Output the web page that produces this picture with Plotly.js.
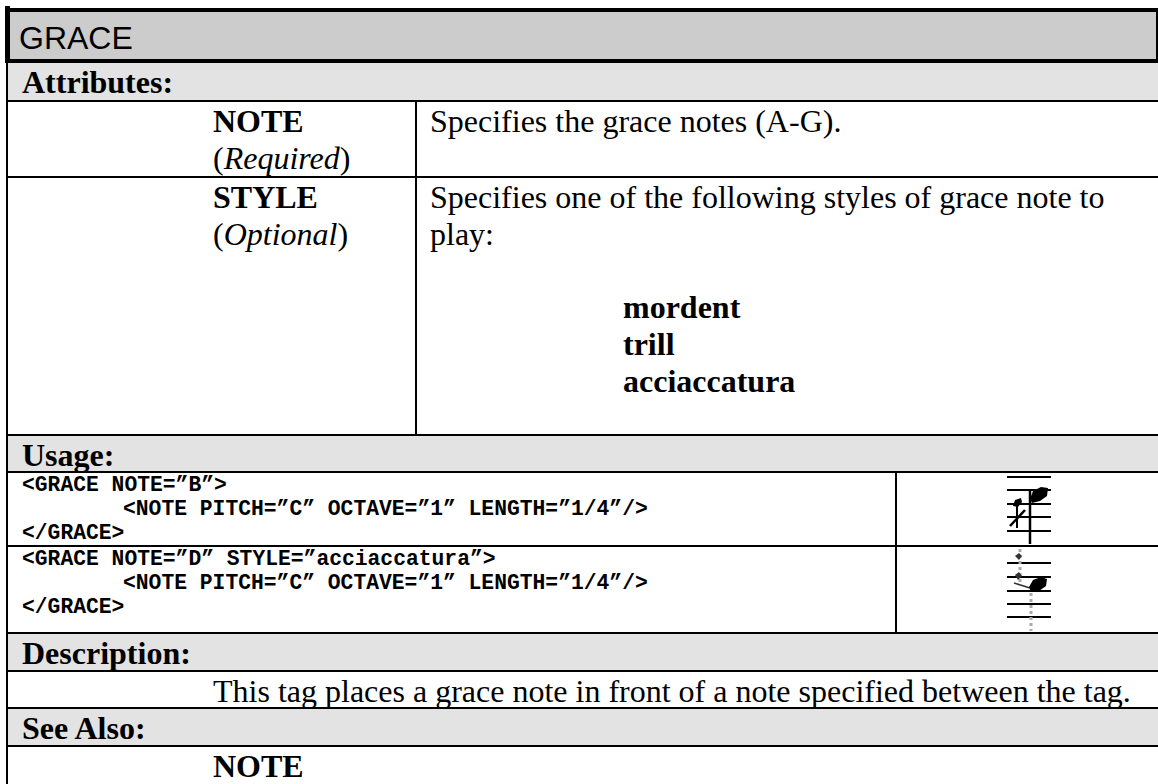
<!DOCTYPE html>
<html>
<head>
<meta charset="utf-8">
<script src="https://cdn.plot.ly/plotly-3.0.1.min.js"></script>
<style>
  html, body { margin: 0; padding: 0; background: #ffffff; }
  #chart { width: 1158px; height: 784px; }
</style>
</head>
<body>
<div id="chart"></div>
<script>
// ---------- content (data) ----------
const docTitle = 'GRACE';
const sectionHeaders = ['Attributes:', 'Usage:', 'Description:', 'See Also:'];
const attrNames = ['NOTE', 'STYLE'];
const attrStatus = ['Required', 'Optional'];
const attrDescNote = ['Specifies the grace notes (A-G).'];
const attrDescStyle = ['Specifies one of the following styles of grace note to', 'play:'];
const styleOptions = ['mordent', 'trill', 'acciaccatura'];
const usageExample1 = ['<GRACE NOTE=\u201dB\u201d>', '\t<NOTE PITCH=\u201dC\u201d OCTAVE=\u201d1\u201d LENGTH=\u201d1/4\u201d/>', '</GRACE>'];
const usageExample2 = ['<GRACE NOTE=\u201dD\u201d STYLE=\u201dacciaccatura\u201d>', '\t<NOTE PITCH=\u201dC\u201d OCTAVE=\u201d1\u201d LENGTH=\u201d1/4\u201d/>', '</GRACE>'];
const descriptionText = ['This tag places a grace note in front of a note specified between the tag.'];
const seeAlsoItems = ['NOTE'];

// ---------- page geometry (layout only) ----------
const W = 1158, H = 784;
const GEO = {
  titleTop: 12, titleBot: 59,
  attrHdrTop: 63, attrHdrBot: 100,
  noteRowTop: 102, styleRowTop: 178,
  usageTop: 436, usageBot: 471,
  code1Top: 473, code2Top: 547, codeBot: 632,
  descHdrTop: 634, descHdrBot: 670,
  descTop: 672, seeHdrTop: 709, seeHdrBot: 745, seeTop: 747,
  colLabel: 22, colAttr: 213, colDesc: 430, colOpt: 623, colDiv: 415, codeDiv: 895,
  codeIndent: 101
};
const SERIF = 'Liberation Serif, Times New Roman, serif';
const SANS = 'Liberation Sans, Arial, sans-serif';
const MONO = 'Liberation Mono, Courier New, monospace';
const LH = 36.8;        // single line height, 24pt serif
const CAP = 19;         // row top -> cap center of first line
const CLH = 24.2;       // code line height
const CCAP = 11.7;      // code row top -> first cap center
const HDR_GRAY = '#e3e3e3', TITLE_GRAY = '#cccccc';

function esc(s) { return s.replace(/&/g, '&amp;').replace(/</g, '&lt;').replace(/>/g, '&gt;'); }

const shapes = [];
function box(x0, x1, y0, y1, color) {
  shapes.push({type: 'rect', xref: 'x', yref: 'y', x0: x0, x1: x1, y0: y0, y1: y1,
    fillcolor: color, line: {width: 0}, layer: 'below'});
}
function seg(x0, y0, x1, y1, w, color, dash) {
  shapes.push({type: 'line', xref: 'x', yref: 'y', x0: x0, y0: y0, x1: x1, y1: y1,
    line: {width: w, color: color || '#000', dash: dash || 'solid'}});
}
function blob(path, color) {
  shapes.push({type: 'path', xref: 'x', yref: 'y', path: path, fillcolor: color || '#000', line: {width: 0}});
}

// fills
box(10, 1156, GEO.titleTop, GEO.titleBot, TITLE_GRAY);
box(8, W, GEO.attrHdrTop, GEO.attrHdrBot, HDR_GRAY);
box(8, W, GEO.usageTop, GEO.usageBot, HDR_GRAY);
box(8, W, GEO.descHdrTop, GEO.descHdrBot, HDR_GRAY);
box(8, W, GEO.seeHdrTop, GEO.seeHdrBot, HDR_GRAY);

// heavy title frame
box(5, W, 8, 12, '#000');
box(5, W, 59, 63, '#000');
box(5, 10, 6, 63, '#000');
box(1156, W, 8, 63, '#000');
// thin left border
box(6, 8, 63, H, '#000');
// horizontal rules
[100, 176, 434, 471, 545, 632, 670, 707, 745].forEach(function (y) { box(6, W, y, y + 2, '#000'); });
// vertical rules
box(GEO.colDiv, GEO.colDiv + 2, 102, 434, '#000');
box(GEO.codeDiv, GEO.codeDiv + 2, 473, 632, '#000');

// ---------- music icons ----------
// icon 1 : grace note with slash before a quarter note
[477, 490, 504, 517, 531].forEach(function (y) { seg(1007, y, 1051, y, 2); });
seg(1030, 490, 1030, 544, 2.5);
blob('M1030,499 L1033,491 L1041,487 L1048,488 L1047,496 L1040,501 L1032,503 Z');
seg(1017, 502, 1017, 528, 2);
blob('M1013,506 L1015,500 L1021,498 L1022,502 L1018,507 Z');
seg(1010, 526, 1025, 510, 2.5);
// icon 2 : acciaccatura (grey, scanned look)
[563, 577, 591, 604, 617].forEach(function (y) { seg(1007, y, 1051, y, 2); });
seg(1020, 549, 1020, 584, 3, '#aaaaaa', 'dot');
blob('M1015,556 L1019,553 L1022,556 L1019,560 Z', '#333');
blob('M1015,575 L1019,572 L1022,576 L1018,580 Z', '#333');
seg(1014, 583, 1030, 588, 1.5, '#333');
blob('M1029,587 L1033,580 L1041,577 L1047,579 L1046,586 L1039,591 L1031,592 Z');
seg(1031, 593, 1031, 631, 3, '#aaaaaa', 'dot');

// ---------- text ----------
const ann = [];
function txt(x, y, s, font) {
  ann.push({xref: 'x', yref: 'y', x: x, y: y, text: s, showarrow: false,
    xanchor: 'left', yanchor: 'middle', align: 'left', borderpad: 0, borderwidth: 0, font: font});
}
const fSerif = {family: SERIF, size: 32, color: '#000'};
const fMono = {family: MONO, size: 21.33, color: '#000'};

txt(19, 37.5, docTitle, {family: SANS, size: 32, color: '#000'});

const hdrTops = [GEO.attrHdrTop, GEO.usageTop, GEO.descHdrTop, GEO.seeHdrTop];
sectionHeaders.forEach(function (h, i) { txt(GEO.colLabel, hdrTops[i] + CAP, '<b>' + esc(h) + '</b>', fSerif); });

const attrTops = [GEO.noteRowTop, GEO.styleRowTop];
attrNames.forEach(function (n, i) {
  txt(GEO.colAttr, attrTops[i] + CAP, '<b>' + esc(n) + '</b>', fSerif);
  txt(GEO.colAttr, attrTops[i] + CAP + LH, '(<i>' + esc(attrStatus[i]) + '</i>)', fSerif);
});
attrDescNote.forEach(function (s, k) { txt(GEO.colDesc, GEO.noteRowTop + CAP + k * LH, esc(s), fSerif); });
attrDescStyle.forEach(function (s, k) { txt(GEO.colDesc, GEO.styleRowTop + CAP + k * LH, esc(s), fSerif); });
styleOptions.forEach(function (s, k) { txt(GEO.colOpt, GEO.styleRowTop + CAP + (3 + k) * LH, '<b>' + esc(s) + '</b>', fSerif); });

[usageExample1, usageExample2].forEach(function (ex, e) {
  const top = e === 0 ? GEO.code1Top : GEO.code2Top;
  ex.forEach(function (line, k) {
    const indented = line.charAt(0) === '\t';
    const s = indented ? line.slice(1) : line;
    txt(GEO.colLabel + (indented ? GEO.codeIndent : 0), top + CCAP + k * CLH, '<b>' + esc(s) + '</b>', fMono);
  });
});

descriptionText.forEach(function (s, k) { txt(GEO.colAttr, GEO.descTop + CAP + k * LH, esc(s), fSerif); });
seeAlsoItems.forEach(function (s, k) { txt(GEO.colAttr, GEO.seeTop + CAP + k * LH, '<b>' + esc(s) + '</b>', fSerif); });

const layout = {
  width: W, height: H,
  margin: {l: 0, r: 0, t: 0, b: 0, pad: 0},
  paper_bgcolor: '#ffffff', plot_bgcolor: '#ffffff',
  showlegend: false,
  xaxis: {range: [0, W], visible: false, fixedrange: true},
  yaxis: {range: [H, 0], visible: false, fixedrange: true},
  shapes: shapes,
  annotations: ann
};
Plotly.newPlot('chart', [{x: [], y: [], type: 'scatter', hoverinfo: 'skip'}], layout, {displayModeBar: false, staticPlot: true});
</script>
</body>
</html>
